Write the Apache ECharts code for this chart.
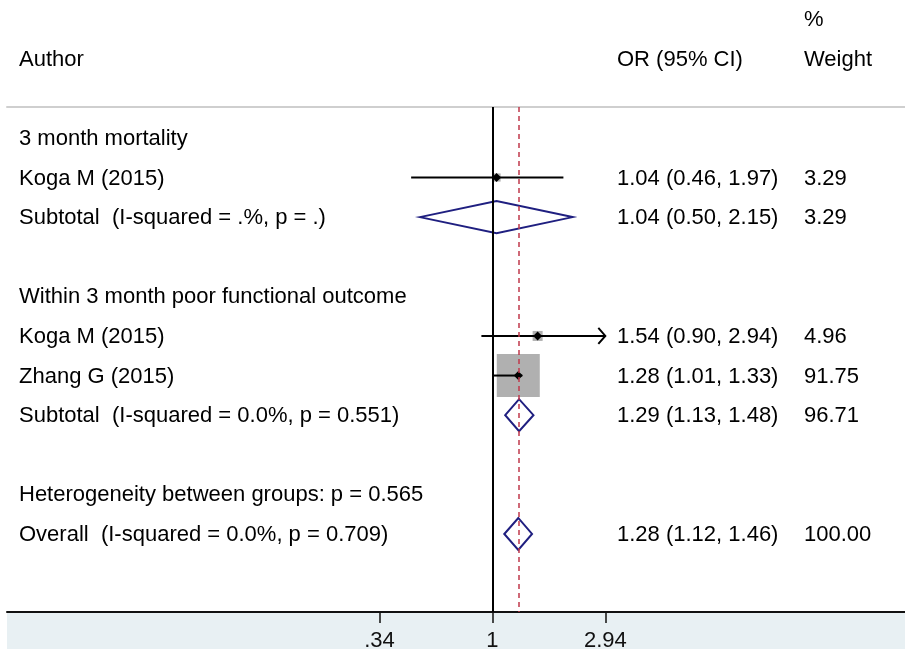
<!DOCTYPE html>
<html><head><meta charset="utf-8">
<script src="https://cdn.jsdelivr.net/npm/echarts@6/dist/echarts.min.js"></script>
<style>html,body{margin:0;padding:0;background:#fff}#c{width:905px;height:653px}</style>
</head><body><div id="c"></div>
<script>
// ---- data ----
const rowLabels = [
  "3 month mortality",
  "Koga M (2015)",
  "Subtotal  (I-squared = .%, p = .)",
  "",
  "Within 3 month poor functional outcome",
  "Koga M (2015)",
  "Zhang G (2015)",
  "Subtotal  (I-squared = 0.0%, p = 0.551)",
  "",
  "Heterogeneity between groups: p = 0.565",
  "Overall  (I-squared = 0.0%, p = 0.709)"
];
// 0 = text only, 1 = study, 2 = pooled (subtotal / overall)
const rowKinds = [0, 1, 2, 0, 0, 1, 1, 2, 0, 0, 2];
const orValues = [null, 1.04, 1.04, null, null, 1.54, 1.28, 1.29, null, null, 1.28];
const ciLower  = [null, 0.46, 0.50, null, null, 0.90, 1.01, 1.13, null, null, 1.12];
const ciUpper  = [null, 1.97, 2.15, null, null, 2.94, 1.33, 1.48, null, null, 1.46];
const weights  = [null, 3.29, 3.29, null, null, 4.96, 91.75, 96.71, null, null, 100.00];
const headerRow1 = ["", "", "%"];
const headerRow2 = ["Author", "OR (95% CI)", "Weight"];
const xTickValues = [0.34, 1, 2.94];
const xTickLabels = [".34", "1", "2.94"];
const nullValue = 1;
const overallOR = 1.28;

// ---- styling ----
const FONT_FAMILY = '"Liberation Sans", Arial, sans-serif';
const FONT_SIZE = 22;
const TEXT_DY = 1;
const COL_X = [19, 617, 804];
const BOX_SCALE = 4.49;
const DIAMOND_HALF = 16;

// ---- build ----
const textRows = [];
textRows.push({row: -3, cells: headerRow1});
textRows.push({row: -2, cells: headerRow2});
rowLabels.forEach((lab, i) => {
  let orTxt = "", wTxt = "";
  if (orValues[i] != null) {
    orTxt = orValues[i].toFixed(2) + " (" + ciLower[i].toFixed(2) + ", " + ciUpper[i].toFixed(2) + ")";
    wTxt = weights[i].toFixed(2);
  }
  textRows.push({row: i, cells: [lab, orTxt, wTxt]});
});

const markData = [];
rowKinds.forEach((k, i) => {
  if (k > 0) markData.push([Math.log(orValues[i]), i, Math.log(ciLower[i]), Math.log(ciUpper[i]), weights[i], k, ciUpper[i]]);
});

const lnTicks = xTickValues.map(Math.log);
const maxTick = Math.max.apply(null, xTickValues);

const chart = echarts.init(document.getElementById('c'), null, {renderer: 'canvas'});
chart.setOption({
  animation: false,
  backgroundColor: '#ffffff',
  graphic: [{
    type: 'rect', z: -10, silent: true,
    shape: {x: 7, y: 613, width: 898, height: 36},
    style: {fill: '#e8f0f3'}
  }],
  grid: {left: 7, right: 0, top: 107, bottom: 41},
  xAxis: [{
    type: 'value', min: -4.637, max: 3.941,
    splitLine: {show: false},
    axisLine: {show: true, onZero: false, lineStyle: {color: '#111', width: 2}},
    axisTick: {show: true, customValues: lnTicks, length: 11, lineStyle: {color: '#111', width: 1.5}},
    axisLabel: {
      show: true, customValues: lnTicks, margin: 18,
      fontSize: FONT_SIZE, fontFamily: FONT_FAMILY, color: '#111',
      formatter: function (v) {
        for (let i = 0; i < lnTicks.length; i++) if (Math.abs(lnTicks[i] - v) < 1e-6) return xTickLabels[i];
        return '';
      }
    }
  }, {
    type: 'value', position: 'top', min: -4.637, max: 3.941,
    splitLine: {show: false},
    axisLine: {show: true, onZero: false, lineStyle: {color: '#cfcfcf', width: 2}},
    axisTick: {show: false}, axisLabel: {show: false}
  }],
  yAxis: {
    type: 'value', inverse: true, min: -0.78, max: 11.97, show: false
  },
  series: [{
    type: 'custom', z: 1, clip: false, silent: true,
    data: textRows.map(r => [0, r.row]),
    renderItem: function (params, api) {
      const r = textRows[params.dataIndex];
      const y = api.coord([0, r.row])[1] + TEXT_DY;
      const children = [];
      r.cells.forEach((t, j) => {
        if (!t) return;
        children.push({
          type: 'text',
          style: {text: t, x: COL_X[j], y: y, align: 'left', verticalAlign: 'middle',
                  fontSize: FONT_SIZE, fontFamily: FONT_FAMILY, fill: '#000'}
        });
      });
      return {type: 'group', children: children};
    },
    markLine: {
      silent: true, symbol: 'none', label: {show: false},
      data: [
        {xAxis: Math.log(nullValue), lineStyle: {color: '#000', width: 2, type: 'solid'}},
        {xAxis: Math.log(overallOR), lineStyle: {color: '#c0394b', width: 1.5, type: [5, 4]}}
      ]
    }
  }, {
    type: 'custom', z: 3, clip: false, silent: true,
    data: markData,
    renderItem: function (params, api) {
      const m = api.value(0), row = api.value(1), lo = api.value(2), hi = api.value(3);
      const w = api.value(4), kind = api.value(5), hiRaw = api.value(6);
      const c = api.coord([m, row]);
      const pl = api.coord([lo, row]);
      const ph = api.coord([hi, row]);
      const y = c[1];
      const children = [];
      if (kind === 1) {
        const s = BOX_SCALE * Math.sqrt(w);
        children.push({type: 'rect', shape: {x: c[0] - s / 2, y: y - s / 2, width: s, height: s},
          style: {fill: '#b0b0b0'}});
        children.push({type: 'line', shape: {x1: pl[0], y1: y, x2: ph[0], y2: y},
          style: {stroke: '#000', lineWidth: 2}});
        if (hiRaw >= maxTick) {
          children.push({type: 'polyline', shape: {points: [[ph[0] - 7, y - 8], [ph[0], y], [ph[0] - 7, y + 8]]},
            style: {stroke: '#000', lineWidth: 2, fill: null}});
        }
        const d = 4.5;
        children.push({type: 'polygon', shape: {points: [[c[0] - d, y], [c[0], y - d], [c[0] + d, y], [c[0], y + d]]},
          style: {fill: '#000'}});
      } else {
        children.push({type: 'polygon',
          shape: {points: [[pl[0], y], [c[0], y - DIAMOND_HALF], [ph[0], y], [c[0], y + DIAMOND_HALF]]},
          style: {stroke: '#1f1f80', lineWidth: 2, fill: null}});
      }
      return {type: 'group', children: children};
    }
  }]
});
</script>
</body></html>
